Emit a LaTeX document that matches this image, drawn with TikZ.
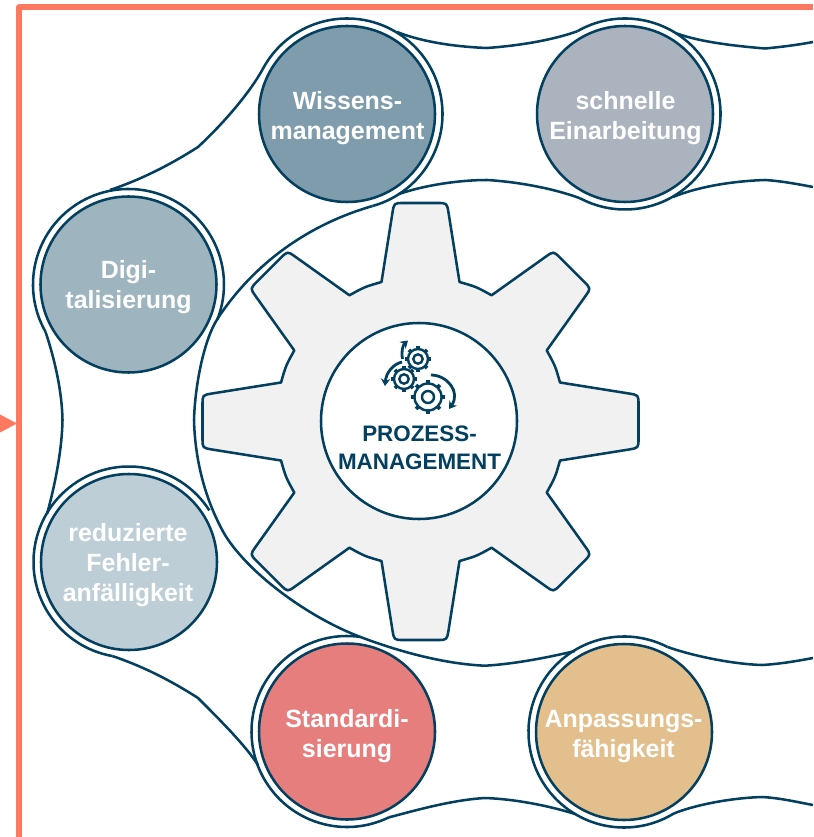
\documentclass[tikz,border=0pt]{standalone}
\usepackage{fontspec}
\setmainfont{Liberation Sans}
\usetikzlibrary{calc,arrows.meta}
\definecolor{dk}{HTML}{033F5F}
\definecolor{frame}{HTML}{FF7860}
\definecolor{gearfill}{HTML}{F1F1F1}
\definecolor{cW}{HTML}{7E9CAB}
\definecolor{cS}{HTML}{ABB3BF}
\definecolor{cD}{HTML}{9EB4BF}
\definecolor{cR}{HTML}{BECED6}
\definecolor{cT}{HTML}{E67E7E}
\definecolor{cA}{HTML}{E2BF8C}
\tikzset{
  px/.style={x=0.75pt,y=-0.75pt},
  lin/.style={draw=dk,line width=1.9pt,line join=round},
  bub/.style={circle,draw=dk,line width=1.9pt,minimum size=132pt,inner sep=0pt},
  btxt/.style={text=white,align=center,inner sep=0pt,font=\fontsize{18.7}{22.5}\selectfont\bfseries},
  ctxt/.style={text=dk,align=center,inner sep=0pt,font=\fontsize{16.8}{21}\selectfont\bfseries},
  ic/.style={draw=dk,line width=1.8pt},
  icarrow/.style={draw=dk,line width=2.1pt,-{Stealth[length=5.5pt,width=7pt]}},
}
\newcommand{\icongear}[4]{% name body-r hole-r tooth
  \foreach \t in {0,45,...,315}{
    \draw[dk,line width=2.8pt] ($(#1)+(\t:#2)$) -- ($(#1)+(\t:#2+#4)$);
  }
  \draw[ic,fill=white] (#1) circle[radius=#2];
  \draw[ic] (#1) circle[radius=#3];
}
\begin{document}
\begin{tikzpicture}[px]
\useasboundingbox (0,0) rectangle (813,837);

% frame
\coordinate (f1) at (19,837);
\coordinate (f2) at (19,7);
\coordinate (f3) at (813,7);
\draw[frame,line width=4.2pt,line join=round] (f1) -- (f2) -- (f3);
\coordinate (t1) at (17,423.5);
\coordinate (t2) at (0,414.5);
\coordinate (t3) at (0,432.5);
\fill[frame] (t1) -- (t2) -- (t3) -- cycle;

% centres
\coordinate (wc) at (347,114);
\coordinate (sc) at (625,114);
\coordinate (dc) at (128.5,284.5);
\coordinate (rc) at (129,562);
\coordinate (tc) at (347,731.5);
\coordinate (ac) at (624,732);

% ring ends
\coordinate (wa) at ($(wc)+(207.6:95.5)$);
\coordinate (wb) at ($(wc)+(74.5:95.5)$);
\coordinate (sa) at ($(sc)+(240:95.5)$);
\coordinate (sb) at ($(sc)+(118:95.5)$);
\coordinate (da) at ($(dc)+(150.4:95.5)$);
\coordinate (db) at ($(dc)+(21.6:95.5)$);
\coordinate (ra) at ($(rc)+(-32.7:95.5)$);
\coordinate (rb) at ($(rc)+(100:95.5)$);
\coordinate (ta) at ($(tc)+(-82:95.5)$);
\coordinate (tb) at ($(tc)+(64:95.5)$);
\coordinate (aa) at ($(ac)+(-63:95.5)$);
\coordinate (ab) at ($(ac)+(58.5:95.5)$);

% rings
\draw[lin] (wa) arc[start angle=207.6,end angle=434.5,radius=95.5];
\draw[lin] (sa) arc[start angle=240,end angle=478,radius=95.5];
\draw[lin] (da) arc[start angle=150.4,end angle=381.6,radius=95.5];
\draw[lin] (ra) arc[start angle=-32.7,end angle=-260,radius=95.5];
\draw[lin] (ta) arc[start angle=-82,end angle=-296,radius=95.5];
\draw[lin] (aa) arc[start angle=-63,end angle=-301.5,radius=95.5];

% cusps
\coordinate (o1) at (765,48.5);
\coordinate (o2) at (487,48);
\coordinate (o3) at (198,147);
\coordinate (o4) at (62.5,420);
\coordinate (o5) at (198,698);
\coordinate (o6) at (485,798);
\coordinate (o7) at (762,797);
\coordinate (i1) at (765,180);
\coordinate (i2) at (487,180);
\coordinate (i3) at (194,420);
\coordinate (i4) at (485,665.7);
\coordinate (i5) at (762,665);
\coordinate (e1) at (813,42);
\coordinate (e2) at (813,805);
\coordinate (e3) at (813,187);
\coordinate (e4) at (813,658);
\coordinate (j1) at (677,33.5);
\coordinate (j2) at (397,32);
\coordinate (j3) at (110,190);
\coordinate (j4) at (47,514);
\coordinate (j5) at (258,765);
\coordinate (j6) at (575,814);
\coordinate (j7) at (673,197);
\coordinate (j8) at (399,194);
\coordinate (j9) at (575,651);

% outer contour
\draw[lin] (e1) .. controls (797,45) and (781,47) .. (o1)
  .. controls (735,46) and (700,42) .. (j1);
\draw[lin] (sa) .. controls (550,41) and (515,46) .. (o2)
  .. controls (460,47) and (425,43) .. (j2);
\draw[lin] (wa) .. controls (250,92) and (225,122) .. (o3)
  .. controls (170,165) and (140,180) .. (j3);
\draw[lin] (da) .. controls (55,360) and (62,392) .. (o4)
  .. controls (62,450) and (55,485) .. (j4);
\draw[lin] (rb) .. controls (142,666) and (170,680) .. (o5)
  .. controls (222,722) and (245,745) .. (j5);
\draw[lin] (tb) .. controls (410,812) and (450,800) .. (o6)
  .. controls (515,799) and (550,806) .. (j6);
\draw[lin] (ab) .. controls (695,805) and (730,798) .. (o7)
  .. controls (780,798) and (797,802) .. (e2);
% inner contour
\draw[lin] (e3) .. controls (797,184) and (781,181) .. (i1)
  .. controls (735,181) and (700,186) .. (j7);
\draw[lin] (sb) .. controls (555,189) and (520,182) .. (i2)
  .. controls (460,180) and (425,185) .. (j8);
\coordinate (m1) at (218,318);
\coordinate (m2) at (225,535);
\draw[lin] (wb) .. controls (310,224) and (255,262) .. (m1)
  .. controls (204,339) and (195,385) .. (i3)
  .. controls (195,460) and (205,500) .. (m2)
  .. controls (250,575) and (310,618) .. (ta)
  .. controls (400,652) and (445,664) .. (i4)
  .. controls (515,664) and (550,657) .. (j9);
\draw[lin] (aa) .. controls (690,655) and (730,664) .. (i5)
  .. controls (780,664) and (797,661) .. (e4);

% gear
\begin{scope}[shift={(420.5,421.5)}]
\draw[lin,fill=gearfill] (-39,-139.5)
  foreach \a/\L in {0/218.5,45/214.5,90/218,135/214.5,180/218.5,225/214.5,270/218,315/214.5}{
    -- ([rotate=-\a]-28,-\L+9.5)
    .. controls ([rotate=-\a]-26.4,-\L) .. ([rotate=-\a]-17,-\L)
    -- ([rotate=-\a]17,-\L)
    .. controls ([rotate=-\a]26.4,-\L) .. ([rotate=-\a]28,-\L+9.5)
    -- ([rotate=-\a]39,-139.5)
    .. controls ([rotate=-\a-22.5]0,-145.8) .. ([rotate=-\a-45]-39,-139.5)
  } -- cycle;
\end{scope}
\node[circle,draw=dk,fill=white,line width=1.9pt,minimum size=147pt,inner sep=0pt] (hub) at (419,421) {};

% bubbles
\node[bub,fill=cW] (wb0) at (wc) {};
\node[bub,fill=cS] (sb0) at (sc) {};
\node[bub,fill=cD] (db0) at (dc) {};
\node[bub,fill=cR] (rb0) at (rc) {};
\node[bub,fill=cT] (tb0) at (tc) {};
\node[bub,fill=cA] (ab0) at (ac) {};
\node[btxt] (wt) at (347.5,119) {\strut Wissens-\\\strut management};
\node[btxt] (st) at (625.5,119) {\strut schnelle\\\strut Einarbeitung};
\node[btxt] (dt) at (128.5,288) {\strut Digi-\\\strut talisierung};
\node[btxt] (rt) at (128,565.5) {\strut reduzierte\\\strut Fehler-\\\strut anfälligkeit};
\node[btxt] (tt) at (347,736) {\strut Standardi-\\\strut sierung};
\node[btxt] (at) at (623.5,736) {\strut Anpassungs-\\\strut fähigkeit};
\node[ctxt] (ct) at (419.5,449.4) {\strut PROZESS-\\\strut MANAGEMENT};

% icon
\coordinate (g1) at (418,359);
\coordinate (g2) at (404,379);
\coordinate (g3) at (428,397);
\icongear{g1}{10}{4.7}{2.8}
\icongear{g2}{10}{4.7}{2.8}
\icongear{g3}{13.5}{6}{3.4}
\coordinate (a1s) at (402.5,359);
\coordinate (a1e) at (408,340.5);
\coordinate (a2s) at (402,362);
\coordinate (a2e) at (385,386);
\coordinate (a3s) at (431,375);
\coordinate (a3e) at (449,409);
\draw[icarrow] (a1s) .. controls (401,351) and (403,345) .. (a1e);
\draw[icarrow] (a2s) .. controls (393,364) and (386,373) .. (a2e);
\draw[icarrow] (a3s) .. controls (447,375) and (461,392) .. (a3e);
\end{tikzpicture}
\end{document}
